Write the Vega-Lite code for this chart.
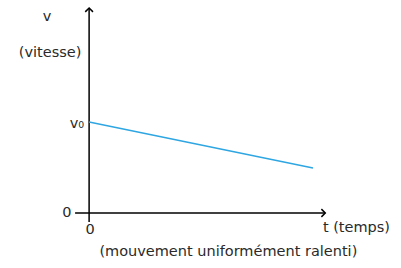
{
  "$schema": "https://vega.github.io/schema/vega-lite/v6.json",
  "width": 401,
  "height": 268,
  "padding": 0,
  "autosize": {"type": "fit", "contains": "padding"},
  "background": "white",
  "config": {"view": {"stroke": null}},
  "layer": [
    {
      "data": {"values": [
        {"t": -0.63, "t2": 10.6, "v": 0, "v2": 0},
        {"t": 0, "t2": 0, "v": -0.9, "v2": 20.5}
      ]},
      "mark": {"type": "rule", "color": "black", "strokeWidth": 1.5},
      "encoding": {
        "x": {"field": "t", "type": "quantitative", "scale": {"domain": [-4, 14], "nice": false, "zero": false}, "axis": null},
        "x2": {"field": "t2"},
        "y": {"field": "v", "type": "quantitative", "scale": {"domain": [-5.5, 21.3], "nice": false, "zero": false}, "axis": null},
        "y2": {"field": "v2"}
      }
    },
    {
      "data": {"values": [
        {"t": 10.6, "v": 0, "angle": 0},
        {"t": 0, "v": 20.5, "angle": 270}
      ]},
      "mark": {"type": "point", "shape": "M -1 -1 L 0 0 L -1 1", "filled": false, "color": "black", "strokeWidth": 1.5, "size": 60, "opacity": 1},
      "encoding": {
        "x": {"field": "t", "type": "quantitative"},
        "y": {"field": "v", "type": "quantitative"},
        "angle": {"field": "angle", "type": "quantitative", "scale": null}
      }
    },
    {
      "data": {"values": [
        {"t": 0, "v": 9.1},
        {"t": 10.05, "v": 4.5}
      ]},
      "mark": {"type": "line", "color": "#2ea6e2", "strokeWidth": 1.5},
      "encoding": {
        "x": {"field": "t", "type": "quantitative"},
        "y": {"field": "v", "type": "quantitative"}
      }
    },
    {
      "data": {"values": [
        {"t": -1.89, "v": 19.6, "label": "v"},
        {"t": -1.75, "v": 16.0, "label": "(vitesse)"},
        {"t": -0.55, "v": 8.9, "label": "v₀"},
        {"t": -1.0, "v": 0, "label": "0"},
        {"t": 0.05, "v": -1.7, "label": "0"},
        {"t": 12.0, "v": -1.5, "label": "t (temps)"},
        {"t": 6.25, "v": -3.9, "label": "(mouvement uniformément ralenti)"}
      ]},
      "mark": {"type": "text", "font": "DejaVu Sans", "fontSize": 14.5, "color": "#2a2a2a", "baseline": "middle", "align": "center"},
      "encoding": {
        "x": {"field": "t", "type": "quantitative"},
        "y": {"field": "v", "type": "quantitative"},
        "text": {"field": "label"}
      }
    }
  ]
}
